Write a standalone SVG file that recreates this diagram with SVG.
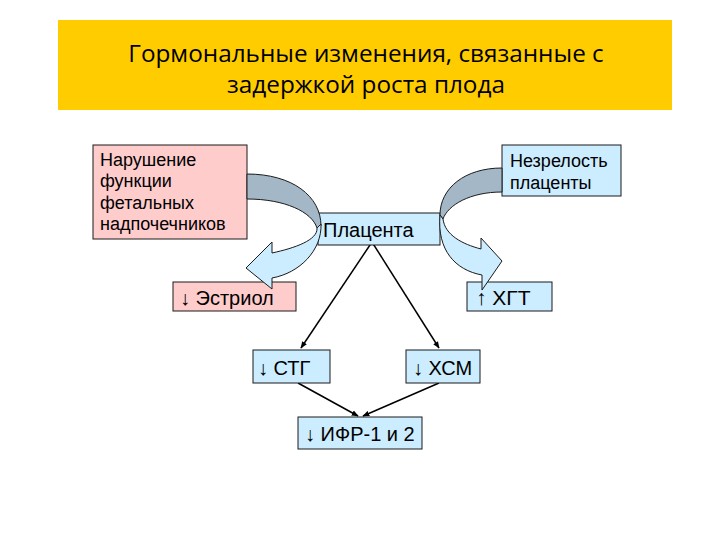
<svg xmlns="http://www.w3.org/2000/svg" width="720" height="540" viewBox="0 0 720 540">
<defs>
<style>
.box{stroke:#1a1a1a;stroke-width:1}
.pink{fill:#FFCCCC}
.blue{fill:#CCECFF}
.t{font-family:"Liberation Sans",Arial,sans-serif;font-size:18px;fill:#000}
.b{font-size:20px}
.title{font-family:"Open Sans","Noto Sans",sans-serif;font-size:24.3px;fill:#000;text-anchor:middle}
.con{stroke:#000;stroke-width:1.5;fill:none;marker-end:url(#ah)}
.back{fill:#A3B7C7;stroke:#1a1a1a;stroke-width:1}
.front{fill:#CCECFF;stroke:#1a1a1a;stroke-width:1}
</style>
<marker id="ah" viewBox="0 0 10 10" refX="9" refY="5" markerWidth="7" markerHeight="7" markerUnits="userSpaceOnUse" orient="auto">
<path d="M0,1 L10,5 L0,9 Z" fill="#000"/>
</marker>
</defs>
<rect width="720" height="540" fill="#fff"/>
<g id="title">
<rect x="58" y="20" width="614" height="90" fill="#FFCC00"/>
<text class="title" x="366" y="62">Гормональные изменения, связанные с</text>
<text class="title" x="366" y="93">задержкой роста плода</text>
</g>
<g id="connectors">
<line class="con" x1="372" y1="242" x2="301" y2="348"/>
<line class="con" x1="372" y1="242" x2="439" y2="348"/>
<line class="con" x1="298" y1="383" x2="358" y2="416"/>
<line class="con" x1="439" y1="383" x2="363" y2="416"/>
</g>
<g id="n-adrenal">
<rect class="box pink" x="93" y="145" width="154" height="94"/>
<text class="t" x="100" y="166">Нарушение</text>
<text class="t" x="100" y="187">функции</text>
<text class="t" x="100" y="209">фетальных</text>
<text class="t" x="100" y="230">надпочечников</text>
</g>
<g id="n-immature">
<rect class="box blue" x="502" y="145" width="119" height="51"/>
<text class="t" x="510" y="167">Незрелость</text>
<text class="t" x="510" y="189">плаценты</text>
</g>
<g id="n-placenta">
<rect class="box blue" x="318" y="213" width="122" height="32"/>
<text class="t b" x="323" y="237">Плацента</text>
</g>
<g id="n-estriol">
<rect class="box pink" x="173" y="282" width="123" height="29"/>
<text class="t b" x="180" y="305">↓ Эстриол</text>
</g>
<g id="n-hgt">
<rect class="box blue" x="467" y="282" width="85" height="29"/>
<text class="t" x="476" y="305" style="font-size:21px">↑ ХГТ</text>
</g>
<g id="n-stg">
<rect class="box blue" x="253" y="350" width="77" height="33"/>
<text class="t b" x="258" y="375">↓ СТГ</text>
</g>
<g id="n-hsm">
<rect class="box blue" x="406" y="350" width="74" height="33"/>
<text class="t b" x="413" y="375">↓ ХСМ</text>
</g>
<g id="n-ifr">
<rect class="box blue" x="298" y="417" width="124" height="32"/>
<text class="t b" x="305" y="441">↓ ИФР-1 и 2</text>
</g>
<g id="curved-left">
<path class="back" d="M247,174 C292,174 321,196 321,226 L317,228 C312,212 285,199 247,199 Z"/>
<path class="front" d="M321,224 C322,250 300,273 272,278 L272,289 L246,268 L272,242 L272,253 C295,248 318,240 317,228 Z"/>
</g>
<g id="curved-right">
<path class="back" d="M502,168 C465,168 440,188 440,215 L443,219 C448,205 470,192 502,192 Z"/>
<path class="front" d="M440,215 C437,250 455,270 482,275 L482,290 L502,261 L481,238 L481,249 C462,244 445,235 443,219 Z"/>
</g>
</svg>
